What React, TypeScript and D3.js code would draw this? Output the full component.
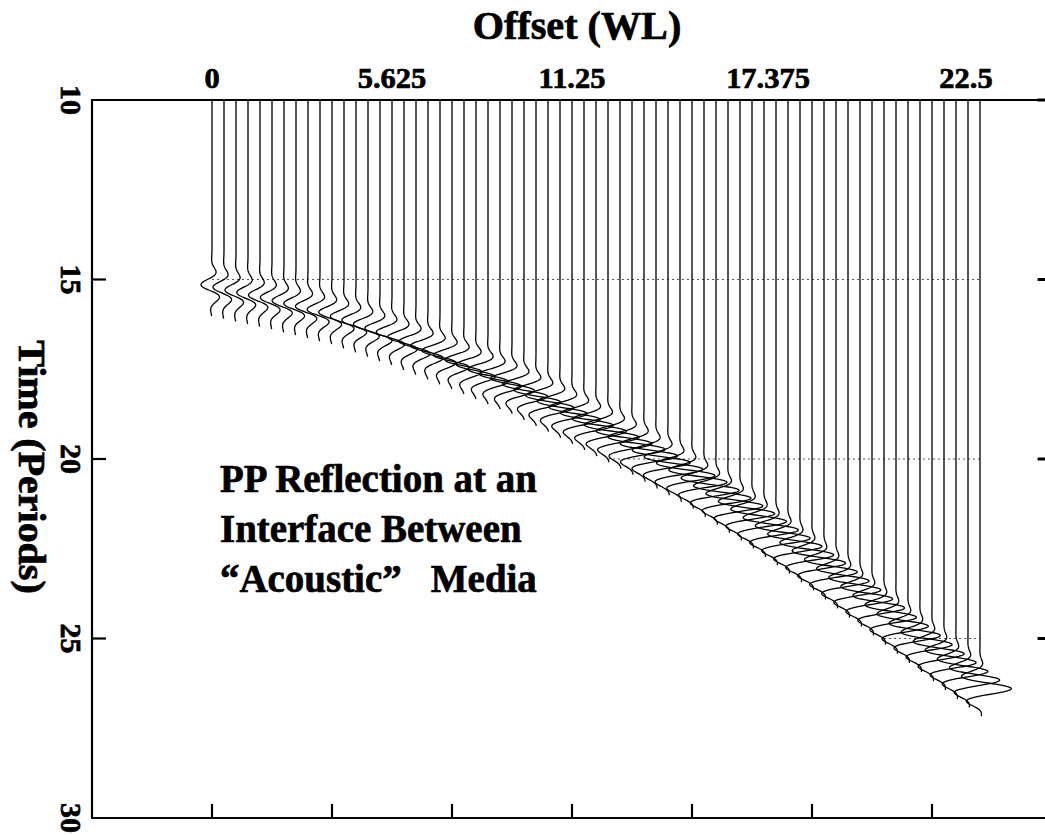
import React from 'react'
import * as d3 from 'd3'

// offsets of the 65 traces (WL)
const traceOffsets = [
  0, 0.375, 0.75, 1.125, 1.5, 1.875, 2.25, 2.625, 3, 3.375,
  3.75, 4.125, 4.5, 4.875, 5.25, 5.625, 6, 6.375, 6.75, 7.125,
  7.5, 7.875, 8.25, 8.625, 9, 9.375, 9.75, 10.125, 10.5, 10.875,
  11.25, 11.625, 12, 12.375, 12.75, 13.125, 13.5, 13.875, 14.25, 14.625,
  15, 15.375, 15.75, 16.125, 16.5, 16.875, 17.25, 17.625, 18, 18.375,
  18.75, 19.125, 19.5, 19.875, 20.25, 20.625, 21, 21.375, 21.75, 22.125,
  22.5, 22.875, 23.25, 23.625, 24
]

// reflection arrival time (periods), read along the event
const arrivalTimes = [
  15.22, 15.29, 15.37, 15.44, 15.51, 15.58, 15.67, 15.75, 15.83, 15.92,
  16.0, 16.12, 16.23, 16.35, 16.47, 16.58, 16.72, 16.85, 16.98, 17.12,
  17.25, 17.39, 17.53, 17.67, 17.81, 17.94, 18.11, 18.28, 18.44, 18.61,
  18.78, 18.95, 19.12, 19.29, 19.47, 19.64, 19.83, 20.02, 20.21, 20.39,
  20.58, 20.81, 21.03, 21.25, 21.47, 21.69, 21.93, 22.16, 22.39, 22.63,
  22.86, 23.11, 23.36, 23.61, 23.86, 24.11, 24.37, 24.62, 24.88, 25.13,
  25.39, 25.63, 25.88, 26.12, 26.36
]

// wiggle amplitude, in trace spacings
const amplitudes = [
  0.95, 0.95, 0.95, 0.97, 0.99, 1.01, 1.03, 1.06, 1.09, 1.12,
  1.16, 1.2, 1.25, 1.3, 1.36, 1.42, 1.48, 1.55, 1.62, 1.69,
  1.76, 1.84, 1.92, 2.0, 2.08, 2.16, 2.24, 2.32, 2.4, 2.48,
  2.56, 2.63, 2.7, 2.76, 2.82, 2.88, 2.92, 2.96, 3.0, 3.0,
  3.0, 3.0, 2.98, 2.96, 2.94, 2.92, 2.9, 2.88, 2.86, 2.84,
  2.82, 2.8, 2.78, 2.76, 2.75, 2.74, 2.73, 2.72, 2.71, 2.7,
  2.7, 2.7, 2.68, 2.66, 2.64
]

// wavelet phase (degrees)
const phases = [
  220, 220, 220, 220, 220, 221, 222, 223, 224, 225,
  227, 230, 233, 236, 239, 242, 245, 248, 251, 254,
  258, 262, 266, 270, 274, 278, 282, 286, 290, 294,
  297, 300, 303, 306, 309, 312, 315, 318, 320, 322,
  324, 326, 328, 330, 332, 334, 335, 336, 337, 338,
  339, 340, 340, 340, 340, 340, 340, 340, 340, 340,
  340, 340, 340, 340, 340
]

const topTickValues = [0, 5.625, 11.25, 17.375, 22.5]
const bottomTicks = [0, 3.75, 7.5, 11.25, 15, 18.75, 22.5]
const timeTicks = [10, 15, 20, 25, 30]
const gridTimes = [15, 20, 25]
const noteLines = ['PP Reflection at an', 'Interface Between', '\u201CAcoustic\u201D   Media']

const W = 1045
const H = 835
const FONT = "'Liberation Serif', 'Times New Roman', serif"

const x = d3.scaleLinear().domain([-3.75, 26.05]).range([92, 1045.6])
const y = d3.scaleLinear().domain([10, 30]).range([100, 818])

const spacing = 0.375
const tail = 0.8
const freq = 1.25
const sigma = 0.45

function wavelet(tau: number, phaseDeg: number) {
  const env = Math.exp(-(tau / sigma) * (tau / sigma))
  return env * Math.cos(2 * Math.PI * freq * tau + (phaseDeg * Math.PI) / 180)
}

const line = d3.line<[number, number]>().x(d => d[0]).y(d => d[1])

function tracePath(i: number) {
  const off = traceOffsets[i]
  const t0 = arrivalTimes[i]
  const end = t0 + tail
  const times = d3.range(10, end, 0.02).concat([end])
  const px = x(off)
  const scale = x(spacing) - x(0)
  const pts: [number, number][] = times.map(t => [
    px + amplitudes[i] * scale * wavelet(t - t0, phases[i]),
    y(t)
  ])
  return line(pts) || ''
}

export default function App() {
  const left = x.range()[0]
  const right = x.range()[1]
  const top = y(10)
  const bottom = y(30)

  return (
    <svg width={W} height={H} style={{ position: 'absolute', left: 0, top: 0, background: '#fff' }}
      fontFamily={FONT} fontWeight="bold">
      {/* dotted time lines through the traces */}
      {gridTimes.map(g => {
        const idx = traceOffsets.map((_, i) => i).filter(i => arrivalTimes[i] + tail >= g)
        if (!idx.length) return null
        return (
          <line key={'g' + g} x1={x(traceOffsets[idx[0]])} x2={x(traceOffsets[idx[idx.length - 1]])}
            y1={y(g)} y2={y(g)} stroke="#555" strokeWidth={1} strokeDasharray="2 3" />
        )
      })}

      {/* traces */}
      <g fill="none" stroke="#000" strokeWidth={1.3} strokeLinejoin="round">
        {traceOffsets.map((_, i) => <path key={i} d={tracePath(i)} />)}
      </g>

      {/* frame */}
      <g stroke="#000" strokeWidth={2.2} fill="none">
        <line x1={left} x2={left} y1={top} y2={bottom} />
        <line x1={left - 1} x2={right} y1={top} y2={top} />
        <line x1={left - 1} x2={right} y1={bottom} y2={bottom} />
        {timeTicks.slice(1, -1).map(t => (
          <line key={'lt' + t} x1={left} x2={left + 14} y1={y(t)} y2={y(t)} />
        ))}
        {timeTicks.slice(0, -1).map(t => (
          <line key={'rt' + t} x1={right - 8} x2={right} y1={y(t)} y2={y(t)} strokeWidth={3} />
        ))}
        {bottomTicks.map(v => (
          <line key={'bt' + v} x1={x(v)} x2={x(v)} y1={bottom} y2={bottom - 14} />
        ))}
      </g>

      <g stroke="#000" strokeWidth={0.7}>
        {/* top axis */}
        <text transform="translate(577,39) scale(0.98,1)" textAnchor="middle" fontSize={41}>Offset (WL)</text>
        {topTickValues.map((v, i) => {
          // the last label sits over the far traces in the original
          const dx = i === topTickValues.length - 1 ? 34 : 0
          return (
            <text key={'tl' + v} transform={`translate(${x(v) + dx},88) scale(1.05,1)`} textAnchor="middle" fontSize={29}>
              {String(v)}
            </text>
          )
        })}

        {/* left axis */}
        {timeTicks.map(t => (
          <text key={'yl' + t} transform={`translate(61,${y(t)}) rotate(90)`} textAnchor="middle" fontSize={30}>
            {String(t)}
          </text>
        ))}
        <text transform="translate(19,467) rotate(90) scale(1.08,1)" textAnchor="middle" fontSize={37}>Time (Periods)</text>

        {/* annotation */}
        {noteLines.map((s, i) => (
          <text key={'n' + i} transform={`translate(220,${492 + i * 50}) scale(0.95,1)`} fontSize={41}
            xmlSpace="preserve" style={{ whiteSpace: 'pre' }}>
            {s}
          </text>
        ))}
      </g>
    </svg>
  )
}
